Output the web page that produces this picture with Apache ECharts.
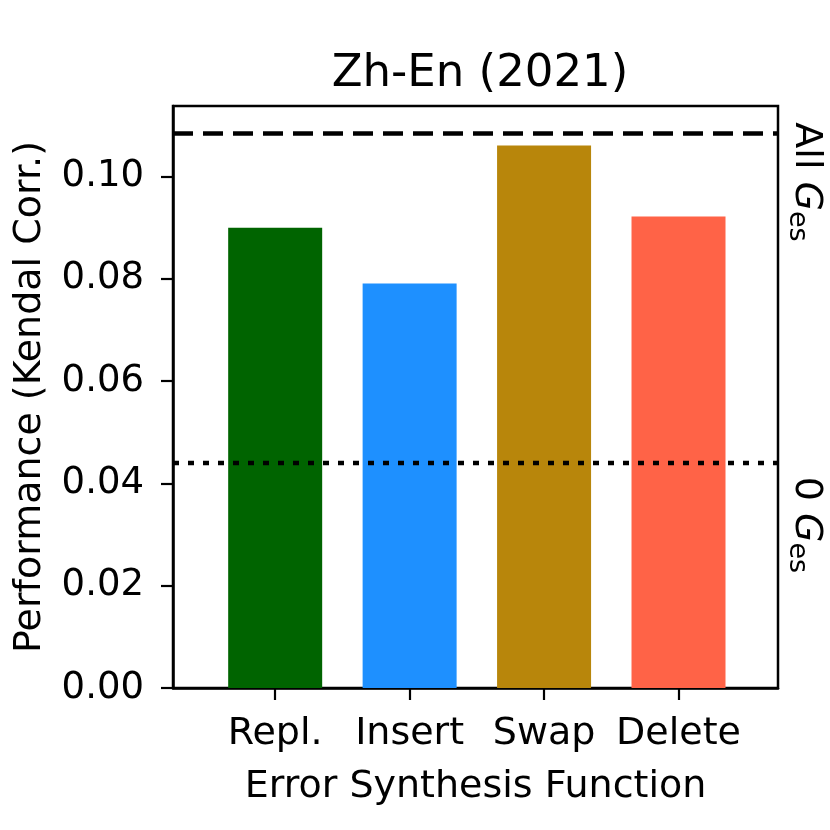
<!DOCTYPE html>
<html>
<head>
<meta charset="utf-8">
<script src="https://cdn.jsdelivr.net/npm/echarts@6/dist/echarts.min.js"></script>
<style>html,body{margin:0;padding:0;background:#fff}#c{width:830px;height:830px}</style>
</head>
<body>
<div id="c"></div>
<script>
const categories = ['Repl.', 'Insert', 'Swap', 'Delete'];
const values = [0.0900, 0.0791, 0.1061, 0.0922];
const barColors = ['#006400', '#1E90FF', '#B8860B', '#FF6347'];
const allGes = 0.1084;
const zeroGes = 0.0440;
const yTicks = [0, 0.02, 0.04, 0.06, 0.08, 0.10];
const xMin = -0.76, xMax = 3.74;
const yMax = 0.1138;

const FONT = 'DejaVu Sans';
const chart = echarts.init(document.getElementById('c'), null, {renderer: 'canvas'});
const catIdx = categories.map((c, i) => i);

chart.setOption({
  animation: false,
  backgroundColor: '#fff',
  title: {
    text: 'Zh-En (2021)',
    left: 475, top: 47, textAlign: 'center',
    textStyle: {fontFamily: FONT, fontSize: 45, fontWeight: 'normal', color: '#000'}
  },
  grid: {left: 173, right: 52, top: 106, bottom: 142, show: true, borderColor: '#000', borderWidth: 2.5, backgroundColor: 'transparent'},
  xAxis: {
    type: 'value', min: xMin, max: xMax,
    name: 'Error Synthesis Function', nameLocation: 'middle', nameGap: 80,
    nameTextStyle: {fontFamily: FONT, fontSize: 38, color: '#000'},
    axisLine: {show: true, onZero: false, lineStyle: {color: '#000', width: 2.5}},
    axisTick: {show: true, length: 12, lineStyle: {color: '#000', width: 2.2}, customValues: catIdx},
    axisLabel: {fontFamily: FONT, fontSize: 38, color: '#000', margin: 27, customValues: catIdx,
      formatter: v => categories[Math.round(v)] || ''},
    splitLine: {show: false}
  },
  yAxis: {
    type: 'value', min: 0, max: yMax,
    name: 'Performance (Kendal Corr.)', nameLocation: 'middle', nameGap: 124, nameRotate: 90,
    nameTextStyle: {fontFamily: FONT, fontSize: 38, color: '#000'},
    axisLine: {show: true, onZero: false, lineStyle: {color: '#000', width: 2.5}},
    axisTick: {show: true, length: 12, lineStyle: {color: '#000', width: 2.2}, customValues: yTicks},
    axisLabel: {fontFamily: FONT, fontSize: 37, color: '#000', margin: 29, customValues: yTicks,
      formatter: v => v.toFixed(2)},
    splitLine: {show: false}
  },
  series: [
    {
      type: 'bar', barWidth: 94,
      data: values.map((v, i) => ({value: [i, v], itemStyle: {color: barColors[i]}})),
      z: 2
    },
    {
      type: 'line', symbol: 'none', z: 5,
      data: [[xMin, allGes], [xMax, allGes]],
      lineStyle: {color: '#000', width: 4.5, type: [20, 10], cap: 'butt'}
    },
    {
      type: 'line', symbol: 'none', z: 5,
      data: [[xMin, zeroGes], [xMax, zeroGes]],
      lineStyle: {color: '#000', width: 4.5, type: [6, 9], cap: 'butt'}
    }
  ],
  graphic: [
    {
      type: 'text', x: 806, y: 182, rotation: -Math.PI / 2,
      style: {
        text: 'All {g|G}{s|es}', align: 'center', verticalAlign: 'middle',
        font: '38px "DejaVu Sans"', fill: '#000',
        rich: {
          g: {fontFamily: FONT, fontSize: 38, fontStyle: 'italic', lineHeight: 44},
          s: {fontFamily: FONT, fontSize: 27, fontStyle: 'normal', lineHeight: 27, padding: [22, 0, 0, 0], verticalAlign: 'bottom'}
        }
      }
    },
    {
      type: 'text', x: 806, y: 525, rotation: -Math.PI / 2,
      style: {
        text: '0 {g|G}{s|es}', align: 'center', verticalAlign: 'middle',
        font: '38px "DejaVu Sans"', fill: '#000',
        rich: {
          g: {fontFamily: FONT, fontSize: 38, fontStyle: 'italic', lineHeight: 44},
          s: {fontFamily: FONT, fontSize: 27, fontStyle: 'normal', lineHeight: 27, padding: [22, 0, 0, 0], verticalAlign: 'bottom'}
        }
      }
    }
  ]
});
</script>
</body>
</html>
